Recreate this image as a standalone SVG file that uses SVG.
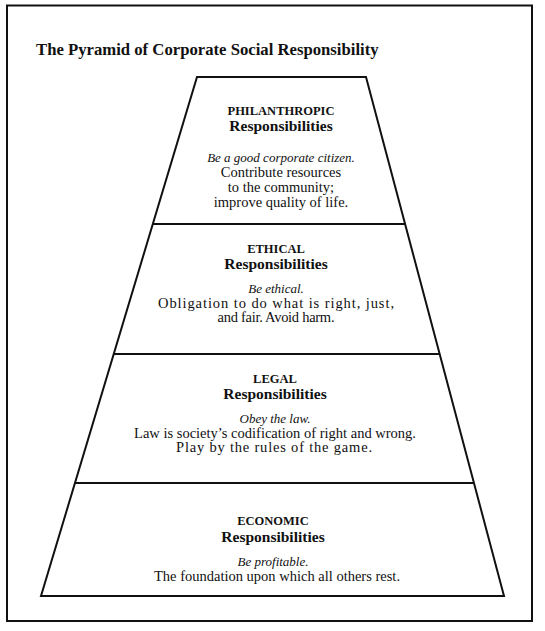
<svg xmlns="http://www.w3.org/2000/svg" width="545" height="631" viewBox="0 0 545 631">
<style>
.ln{fill:none;stroke:#111;stroke-width:2;stroke-linejoin:miter}
text{font-family:"Liberation Serif","Times New Roman",serif;fill:#111;text-anchor:middle}
.title{font-size:16.7px;font-weight:bold;text-anchor:start}
.hd{font-size:12.5px;font-weight:bold}
.hd2{font-size:15.5px;font-weight:bold}
.it{font-size:13px;font-style:italic}
.rm{font-size:14.5px}
</style>
<rect width="545" height="631" fill="#fff"/>
<rect id="frame" class="ln" x="7" y="5.5" width="525" height="615.5"/>
<text id="title" class="title" x="36" y="55">The Pyramid of Corporate Social Responsibility</text>
<g id="pyramid">
<polygon class="ln" points="197,77 366,77 504,596 41,596"/>
</g>
<g id="connectors">
<line class="ln" x1="153" y1="224" x2="405" y2="224"/>
<line class="ln" x1="114" y1="354" x2="440" y2="354"/>
<line class="ln" x1="75" y1="483" x2="474" y2="483"/>
</g>
<g id="philanthropic">
<text class="hd" x="281" y="114.5">PHILANTHROPIC</text>
<text class="hd2" x="281" y="131">Responsibilities</text>
<text class="it" x="281" y="161.5">Be a good corporate citizen.</text>
<text class="rm" x="281" y="176.5">Contribute resources</text>
<text class="rm" x="281" y="191.5">to the community;</text>
<text class="rm" x="281" y="206.5">improve quality of life.</text>
</g>
<g id="ethical">
<text class="hd" x="276" y="253">ETHICAL</text>
<text class="hd2" x="276" y="269">Responsibilities</text>
<text class="it" x="276" y="293">Be ethical.</text>
<text class="rm" x="276" y="307.5" textLength="236" lengthAdjust="spacing">Obligation to do what is right, just,</text>
<text class="rm" x="276" y="322" textLength="117" lengthAdjust="spacing">and fair. Avoid harm.</text>
</g>
<g id="legal">
<text class="hd" x="275" y="383">LEGAL</text>
<text class="hd2" x="275" y="399">Responsibilities</text>
<text class="it" x="275" y="423">Obey the law.</text>
<text class="rm" x="275" y="437.5">Law is society’s codification of right and wrong.</text>
<text class="rm" x="274" y="452" textLength="196" lengthAdjust="spacing">Play by the rules of the game.</text>
</g>
<g id="economic">
<text class="hd" x="273" y="525">ECONOMIC</text>
<text class="hd2" x="273" y="542">Responsibilities</text>
<text class="it" x="273" y="566">Be profitable.</text>
<text class="rm" x="277" y="581">The foundation upon which all others rest.</text>
</g>
</svg>
